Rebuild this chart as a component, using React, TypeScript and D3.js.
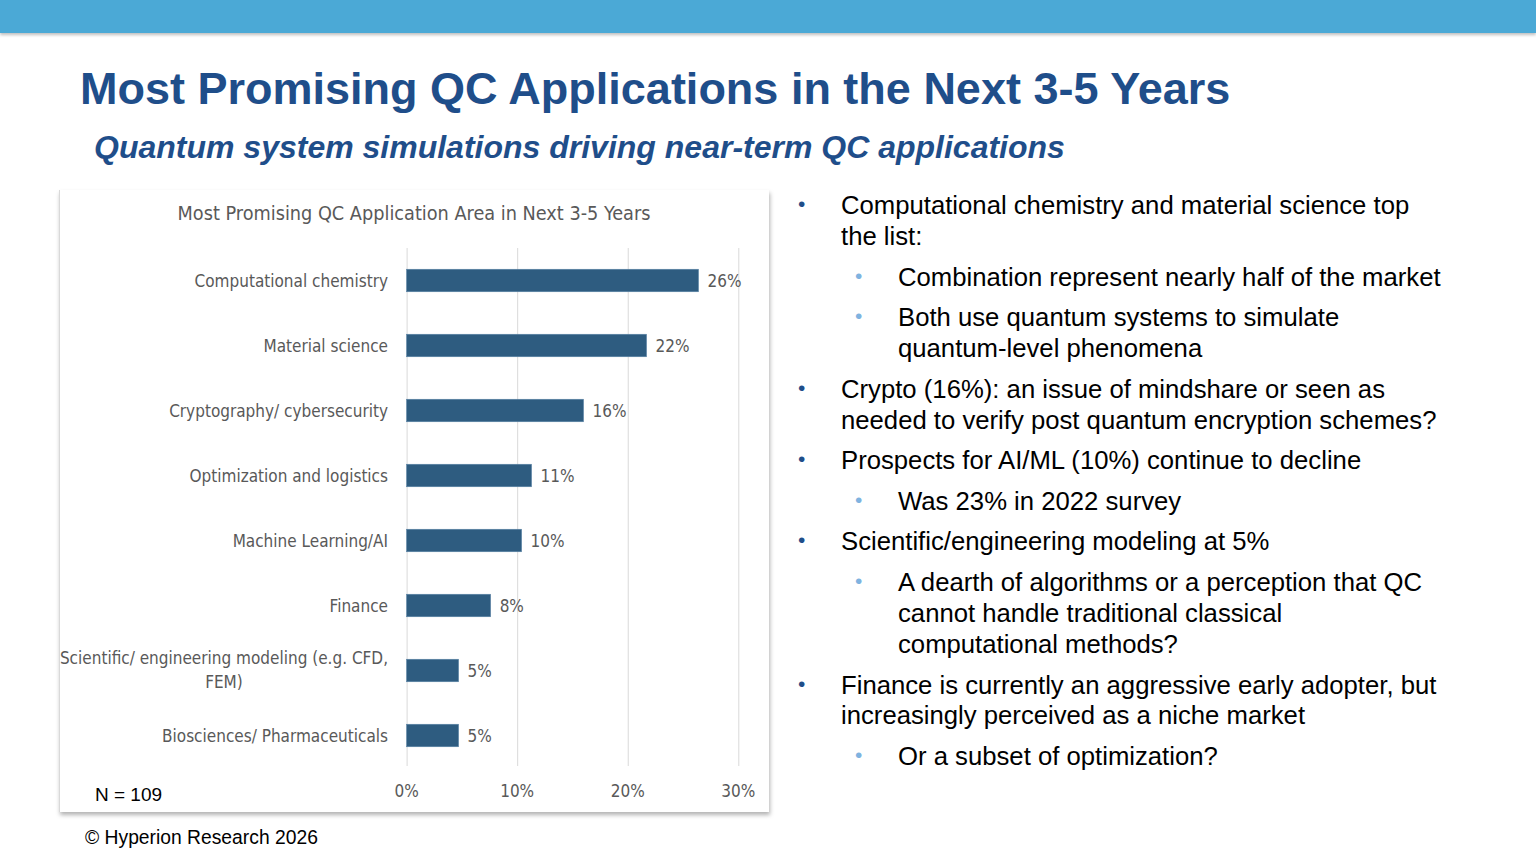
import { useRef, useEffect } from "react";
import * as d3 from "d3";

const categories = [
  "Computational chemistry",
  "Material science",
  "Cryptography/ cybersecurity",
  "Optimization and logistics",
  "Machine Learning/AI",
  "Finance",
  "Scientific/ engineering modeling (e.g. CFD,|FEM)",
  "Biosciences/ Pharmaceuticals",
];
const shares = [26.4, 21.7, 16.0, 11.3, 10.4, 7.6, 4.7, 4.7];
const ticks = [0, 10, 20, 30];

const title = "Most Promising QC Applications in the Next 3-5 Years";
const subtitle = "Quantum system simulations driving near-term QC applications";
const chartTitle = "Most Promising QC Application Area in Next 3-5 Years";

// 0 = main bullet, 1 = sub bullet, -1 = main continuation, -2 = sub continuation
const bulletLevels = [0, -1, 1, 1, -2, 0, -1, 0, 1, 0, 1, -2, -2, 0, -1, 1];
const bulletLines = [
  "Computational chemistry and material science top",
  "the list:",
  "Combination represent nearly half of the market",
  "Both use quantum systems to simulate",
  "quantum-level phenomena",
  "Crypto (16%): an issue of mindshare or seen as",
  "needed to verify post quantum encryption schemes?",
  "Prospects for AI/ML (10%) continue to decline",
  "Was 23% in 2022 survey",
  "Scientific/engineering modeling at 5%",
  "A dearth of algorithms or a perception that QC",
  "cannot handle traditional classical",
  "computational methods?",
  "Finance is currently an aggressive early adopter, but",
  "increasingly perceived as a niche market",
  "Or a subset of optimization?",
];
const bulletBaselines = [214, 245, 286, 326, 357, 398, 429, 469, 510, 550, 591, 622, 653, 694, 724, 765];

export default function App() {
  const svgRef = useRef<SVGSVGElement>(null);

  useEffect(() => {
    if (!svgRef.current) return;
    const svg = d3.select(svgRef.current);
    svg.selectAll("*").remove();

    const narrow = "'Liberation Sans Narrow', 'DejaVu Sans Condensed', 'Roboto', sans-serif";
    const arial = "'Liberation Sans', Arial, sans-serif";
    const navy = "#1F4E8A";
    const grey = "#595959";

    const defs = svg.append("defs");
    const f = defs.append("filter").attr("id", "shadow").attr("x", "-5%").attr("y", "-5%").attr("width", "110%").attr("height", "110%");
    f.append("feDropShadow").attr("dx", 1).attr("dy", 3).attr("stdDeviation", 2).attr("flood-color", "#000").attr("flood-opacity", 0.3);
    const fb = defs.append("filter").attr("id", "bandshadow").attr("y", "-20%").attr("height", "160%");
    fb.append("feDropShadow").attr("dx", 0).attr("dy", 2).attr("stdDeviation", 1.5).attr("flood-color", "#000").attr("flood-opacity", 0.25);

    svg.append("rect").attr("width", 1536).attr("height", 861).attr("fill", "#fff");

    // top band
    svg.append("rect").attr("x", 0).attr("y", 0).attr("width", 1536).attr("height", 33)
      .attr("fill", "#4BA9D6").attr("filter", "url(#bandshadow)");

    svg.append("text").attr("x", 80).attr("y", 104)
      .attr("font-family", arial).attr("font-weight", "bold").attr("font-size", 45)
      .attr("fill", navy).text(title);

    svg.append("text").attr("x", 94).attr("y", 158)
      .attr("font-family", arial).attr("font-weight", "bold").attr("font-style", "italic")
      .attr("font-size", 32).attr("fill", navy).text(subtitle);

    // chart panel
    svg.append("rect").attr("x", 59).attr("y", 190).attr("width", 710).attr("height", 622)
      .attr("fill", "#fff").attr("filter", "url(#shadow)");
    svg.append("line").attr("x1", 59.5).attr("x2", 59.5).attr("y1", 190).attr("y2", 812)
      .attr("stroke", "#d9d9d9");

    svg.append("text").attr("x", 414).attr("y", 220).attr("text-anchor", "middle")
      .attr("font-family", narrow).attr("font-size", 19.7).attr("fill", grey).text(chartTitle);

    const x = d3.scaleLinear().domain([0, 30]).range([406.6, 738.3]);
    const y = d3.scaleBand().domain(categories).range([248, 768]).paddingInner(0.654).paddingOuter(0.327);
    const g = svg.append("g");

    g.selectAll(".grid").data(ticks).join("line")
      .attr("x1", (d) => x(d) + 0.5).attr("x2", (d) => x(d) + 0.5)
      .attr("y1", 248).attr("y2", 766)
      .attr("stroke", "#d9d9d9").attr("stroke-width", 1);

    g.selectAll(".tick-label").data(ticks).join("text")
      .attr("x", (d) => x(d)).attr("y", 797).attr("text-anchor", "middle")
      .attr("font-family", narrow).attr("font-size", 17).attr("fill", grey)
      .text((d) => `${d}%`);

    g.selectAll(".bar").data(categories).join("rect")
      .attr("x", x(0)).attr("y", (d) => y(d)!)
      .attr("width", (_, i) => x(shares[i]) - x(0)).attr("height", y.bandwidth())
      .attr("fill", "#2E5C80").attr("stroke", "#5B84A6").attr("stroke-width", 0.6);

    const fmt = d3.format(".0f");
    g.selectAll(".val").data(categories).join("text")
      .attr("x", (_, i) => x(shares[i]) + 9)
      .attr("y", (d) => y(d)! + y.bandwidth() / 2 + 6)
      .attr("font-family", narrow).attr("font-size", 17).attr("fill", grey)
      .text((_, i) => `${fmt(shares[i])}%`);

    categories.forEach((c) => {
      const parts = c.split("|");
      const cy = y(c)! + y.bandwidth() / 2;
      if (parts.length === 1) {
        g.append("text").attr("x", 388).attr("y", cy + 6).attr("text-anchor", "end")
          .attr("font-family", narrow).attr("font-size", 17).attr("fill", grey).text(c);
      } else {
        const t = g.append("text").attr("font-family", narrow).attr("font-size", 17).attr("fill", grey)
          .attr("text-anchor", "middle");
        const l1 = t.append("tspan").attr("y", cy - 7).text(parts[0]);
        const w = (l1.node() as SVGTSpanElement).getComputedTextLength();
        const mid = 388 - w / 2;
        l1.attr("x", mid);
        t.append("tspan").attr("x", mid).attr("y", cy + 17).text(parts[1]);
      }
    });

    svg.append("text").attr("x", 95).attr("y", 801)
      .attr("font-family", arial).attr("font-size", 19).attr("fill", "#000").text("N = 109");

    svg.append("text").attr("x", 85).attr("y", 844)
      .attr("font-family", arial).attr("font-size", 19.3).attr("fill", "#000").text("© Hyperion Research 2026");

    // bullet text
    const bl = svg.append("g").attr("font-family", arial).attr("font-size", 25.7).attr("fill", "#000");
    bulletLines.forEach((line, i) => {
      const lvl = bulletLevels[i];
      const sub = lvl === 1 || lvl === -2;
      const tx = sub ? 898 : 841;
      if (lvl >= 0) {
        bl.append("text").attr("x", sub ? 855 : 798).attr("y", bulletBaselines[i] - 3)
          .attr("font-size", 21).attr("fill", sub ? "#7FB3E0" : navy).text("•");
      }
      bl.append("text").attr("x", tx).attr("y", bulletBaselines[i]).text(line);
    });
  }, []);

  return (
    <div style={{ position: "fixed", left: 0, top: 0, width: 1536, height: 861 }}>
      <svg ref={svgRef} width={1536} height={861} style={{ display: "block" }} />
    </div>
  );
}
